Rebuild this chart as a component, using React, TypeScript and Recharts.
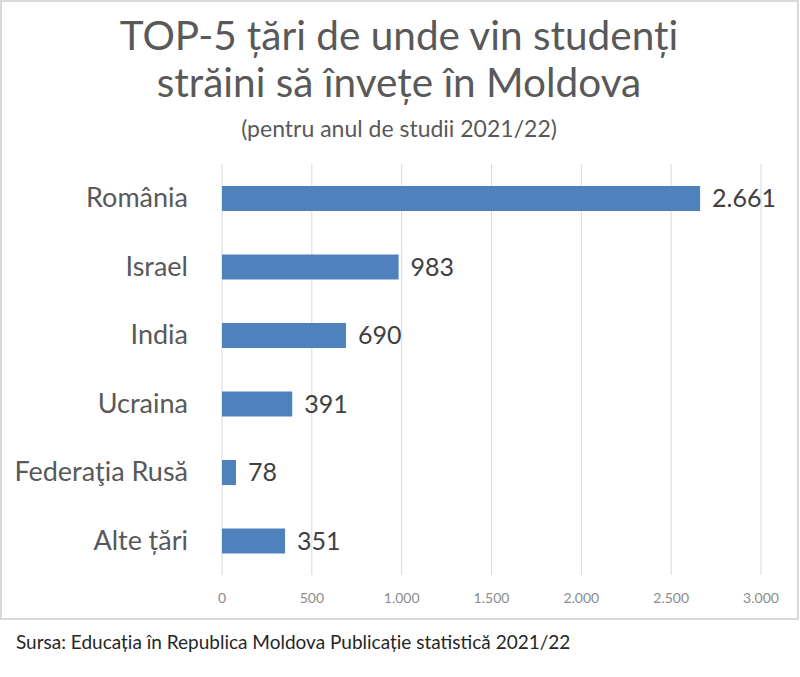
import { BarChart, Bar, XAxis, YAxis, CartesianGrid, LabelList } from 'recharts';

const countries = ['România', 'Israel', 'India', 'Ucraina', 'Federaţia Rusă', 'Alte țări'];
const students = [2661, 983, 690, 391, 78, 351];
const xTicks = [0, 500, 1000, 1500, 2000, 2500, 3000];

const titleLines = ['TOP-5 țări de unde vin studenți', 'străini să învețe în Moldova'];
const subtitle = '(pentru anul de studii 2021/22)';
const source = 'Sursa: Educația în Republica Moldova Publicație statistică 2021/22';

const data = countries.map((country, i) => ({ country, students: students[i] }));

const FONT = 'Lato, "Open Sans", sans-serif';

// 2661 -> "2.661"
const fmt = (n: number) => String(n).replace(/\B(?=(\d{3})+(?!\d))/g, '.');

function CountryTick({ x, y, payload }: any) {
  return (
    <text
      x={x - 26}
      y={y}
      dy={9}
      textAnchor="end"
      fontSize={27}
      fill="#595959"
      fontFamily={FONT}
    >
      {payload.value}
    </text>
  );
}

export default function App() {
  return (
    <div
      style={{
        position: 'absolute',
        left: 0,
        top: 0,
        width: 800,
        height: 677,
        background: '#fff',
        fontFamily: FONT,
      }}
    >
      <div
        style={{
          position: 'absolute',
          left: 0,
          top: 0,
          width: 795,
          height: 616,
          border: '2px solid #d9d9d9',
        }}
      />
      <div style={{ position: 'absolute', left: 0, top: 0 }}>
        <BarChart
          width={800}
          height={677}
          data={data}
          layout="vertical"
          margin={{ top: 164, right: 39, bottom: 62, left: 0 }}
          barCategoryGap={22}
        >
          <CartesianGrid horizontal={false} stroke="#d9d9d9" />
          <XAxis
            type="number"
            domain={[0, 3000]}
            ticks={xTicks}
            tickFormatter={fmt}
            axisLine={false}
            tickLine={false}
            height={40}
            tick={{ fontSize: 14, fill: '#8c8c8c', fontFamily: FONT }}
            tickMargin={12}
          />
          <YAxis
            type="category"
            dataKey="country"
            width={222}
            axisLine={false}
            tickLine={false}
            tick={<CountryTick />}
          />
          <Bar dataKey="students" fill="#4f81bd" barSize={25} isAnimationActive={false}>
            <LabelList
              dataKey="students"
              position="right"
              offset={12}
              formatter={(v: any) => fmt(Number(v))}
              style={{ fontSize: 25, fill: '#404040', fontFamily: FONT }}
            />
          </Bar>
        </BarChart>
      </div>
      <svg
        width={800}
        height={677}
        style={{ position: 'absolute', left: 0, top: 0, pointerEvents: 'none' }}
      >
        <text x={399} y={50} textAnchor="middle" fontSize={40.5} fill="#595959" fontFamily={FONT}>
          {titleLines[0]}
        </text>
        <text x={399} y={97} textAnchor="middle" fontSize={40.5} fill="#595959" fontFamily={FONT}>
          {titleLines[1]}
        </text>
        <text x={399} y={137} textAnchor="middle" fontSize={23} fill="#595959" fontFamily={FONT}>
          {subtitle}
        </text>
        <text x={16} y={649} fontSize={19} fill="#262626" fontFamily={FONT}>
          {source}
        </text>
      </svg>
    </div>
  );
}
